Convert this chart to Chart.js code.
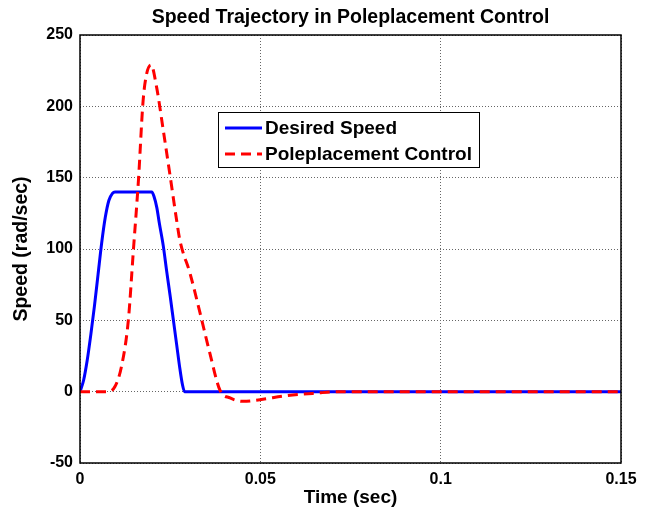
<!DOCTYPE html>
<html>
<head>
<meta charset="utf-8">
<script src="https://cdn.jsdelivr.net/npm/chart.js"></script>
<style>
  body { margin: 0; background: #fff; }
  #wrap { width: 650px; height: 513px; }
</style>
</head>
<body>
<div id="wrap"><canvas id="myChart" width="650" height="513"></canvas></div>
<script>
// values
const desiredTime  = [0, 0.001, 0.002, 0.003, 0.004, 0.005, 0.006, 0.007, 0.008, 0.009, 0.0097, 0.0199, 0.0205, 0.0213, 0.022, 0.0231, 0.024, 0.025, 0.0259, 0.0268, 0.0277, 0.0284, 0.029, 0.15];
const desiredSpeed = [0, 8, 22, 40, 60, 82, 104, 122, 134, 139, 140, 140, 137, 129, 118, 102, 85, 67, 50, 33, 16, 5, 0, 0];

const poleTime  = [0, 0.0078, 0.0097, 0.0115, 0.0134, 0.0148, 0.0162, 0.0175, 0.0185, 0.0197, 0.0212, 0.0231, 0.025, 0.0268, 0.0277, 0.0305, 0.0333, 0.036, 0.0388, 0.0416, 0.0453, 0.0499, 0.0573, 0.0656, 0.072, 0.15];
const poleSpeed = [0, 0, 3.6, 17.6, 50, 99, 148, 204, 223, 229, 214, 183, 151, 120, 106, 83, 55, 27, 1, -4.4, -6.8, -5.6, -2.8, -1, 0, 0];

const xTicks = [0, 0.05, 0.1, 0.15];
const yTicks = [-50, 0, 50, 100, 150, 200, 250];

const seriesNames = ['Desired Speed', 'Poleplacement Control'];
const titleText = 'Speed Trajectory in Poleplacement Control';

const FONT = '"Liberation Sans", Arial, sans-serif';

function pts(xs, ys) {
  return xs.map((x, i) => ({ x: x, y: ys[i] }));
}

// frame, title and the in-plot legend
const decor = {
  id: 'decor',
  afterDraw(chart) {
    const ctx = chart.ctx;
    const a = chart.chartArea;
    ctx.save();
    ctx.strokeStyle = '#000';
    ctx.lineWidth = 1.5;
    ctx.strokeRect(a.left, a.top, a.right - a.left, a.bottom - a.top);

    ctx.fillStyle = '#000';
    ctx.font = 'bold 19.5px ' + FONT;
    ctx.textAlign = 'center';
    ctx.textBaseline = 'middle';
    ctx.fillText(titleText, (a.left + a.right) / 2, 18);

    // legend box
    const bx = 218, by = 112, bw = 261, bh = 55;
    ctx.fillStyle = '#fff';
    ctx.fillRect(bx, by, bw, bh);
    ctx.strokeStyle = '#000';
    ctx.lineWidth = 1;
    ctx.strokeRect(bx + 0.5, by + 0.5, bw, bh);
    const rows = [128, 154];
    chart.data.datasets.forEach((d, i) => {
      ctx.strokeStyle = d.borderColor;
      ctx.lineWidth = 3;
      ctx.setLineDash(d.borderDash || []);
      ctx.beginPath();
      ctx.moveTo(225, rows[i]);
      ctx.lineTo(262, rows[i]);
      ctx.stroke();
      ctx.setLineDash([]);
      ctx.fillStyle = '#000';
      ctx.font = 'bold 19px ' + FONT;
      ctx.textAlign = 'left';
      ctx.fillText(d.label, 265, rows[i] + 1);
    });
    ctx.restore();
  }
};

const gridOpts = {
  color: '#666',
  lineWidth: 1,
  drawTicks: false
};

new Chart(document.getElementById('myChart'), {
  type: 'line',
  data: {
    datasets: [
      {
        label: seriesNames[0],
        data: pts(desiredTime, desiredSpeed),
        borderColor: '#0000ff',
        borderWidth: 3,
        pointRadius: 0,
        cubicInterpolationMode: 'monotone',
        order: 2
      },
      {
        label: seriesNames[1],
        data: pts(poleTime, poleSpeed),
        borderColor: '#ff0000',
        borderWidth: 3,
        borderDash: [10, 6],
        pointRadius: 0,
        cubicInterpolationMode: 'monotone',
        order: 1
      }
    ]
  },
  options: {
    responsive: false,
    animation: false,
    layout: { padding: { top: 35, right: 29, left: 0, bottom: 0 } },
    plugins: {
      legend: { display: false },
      title: { display: false },
      tooltip: { enabled: false }
    },
    scales: {
      x: {
        type: 'linear',
        min: 0,
        max: 0.15,
        afterBuildTicks: s => { s.ticks = xTicks.map(v => ({ value: v })); },
        afterFit: s => { s.height = 50; },
        grid: gridOpts,
        border: { display: false, dash: [1, 2] },
        ticks: {
          padding: 7,
          maxRotation: 0,
          color: '#000',
          font: { family: FONT, size: 16, weight: 'bold' },
          callback: v => String(v)
        },
        title: {
          display: true,
          text: 'Time (sec)',
          color: '#000',
          font: { family: FONT, size: 19, weight: 'bold' },
          padding: { top: 0, bottom: 4 }
        }
      },
      y: {
        min: -50,
        max: 250,
        afterBuildTicks: s => { s.ticks = yTicks.map(v => ({ value: v })); },
        afterFit: s => { s.width = 80; },
        grid: gridOpts,
        border: { display: false, dash: [1, 2] },
        ticks: {
          padding: 7,
          color: '#000',
          font: { family: FONT, size: 16, weight: 'bold' },
          callback: v => String(v)
        },
        title: {
          display: true,
          text: 'Speed (rad/sec)',
          color: '#000',
          font: { family: FONT, size: 19.5, weight: 'bold' },
          padding: { top: 10, bottom: 0 }
        }
      }
    }
  },
  plugins: [decor]
});
</script>
</body>
</html>
